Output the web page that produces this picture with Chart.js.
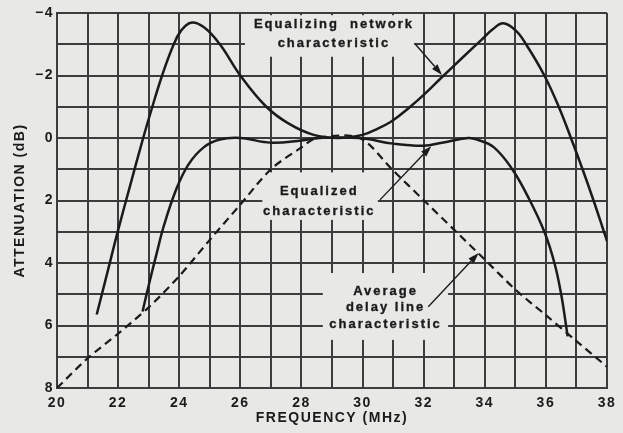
<!DOCTYPE html>
<html>
<head>
<meta charset="utf-8">
<script src="https://cdn.jsdelivr.net/npm/chart.js@4.4.0/dist/chart.umd.min.js"></script>
<style>
  html, body { margin: 0; padding: 0; background: #e8e8e6; }
  #wrap { width: 623px; height: 433px; }
</style>
</head>
<body>
<div id="wrap"><canvas id="c" width="623" height="433"></canvas></div>
<script>
// Equalizing network characteristic (attenuation in dB, negative = gain)
const networkFreq  = [21.3, 21.65, 22.0, 22.4, 22.82, 23.12, 23.44, 23.8, 24.05, 24.38, 24.8, 25.33, 26.0, 26.85, 27.6, 28.4, 29.2, 30.0, 30.5, 31.0, 31.56, 32.0, 32.57, 33.3, 33.9, 34.25, 34.6, 35.0, 35.35, 35.95, 36.42, 36.82, 37.2, 37.56, 37.9, 38.0];
const networkAtten = [5.65, 4.3, 2.95, 1.5, 0, -1, -2, -2.95, -3.42, -3.69, -3.55, -3, -2, -1, -0.45, -0.1, 0, -0.1, -0.3, -0.57, -1, -1.38, -1.92, -2.6, -3.15, -3.47, -3.67, -3.45, -3, -2, -1, 0, 1, 2, 3, 3.3];

// Equalized characteristic
const equalizedFreq  = [22.8, 23.03, 23.26, 23.5, 23.9, 24.3, 24.8, 25.33, 26.0, 27.0, 28.0, 28.6, 29.9, 31.0, 32.0, 32.6, 33.45, 33.75, 34.3, 34.9, 35.45, 35.95, 36.28, 36.5, 36.66, 36.71];
const equalizedAtten = [5.55, 4.6, 3.7, 2.8, 1.65, 0.85, 0.3, 0.05, 0, 0.15, 0.08, 0, 0, 0.18, 0.25, 0.15, 0, 0.05, 0.3, 1, 1.95, 3, 4, 5, 6, 6.35];

// Average delay line characteristic (dashed)
const delayFreq  = [20, 21, 22, 23, 24, 25, 26, 27, 28, 28.5, 29.9, 31, 32, 33, 34, 35, 36, 37, 38];
const delayAtten = [8, 7.05, 6.26, 5.42, 4.42, 3.26, 2.13, 1.0, 0.3, 0, 0, 1.04, 1.99, 2.94, 3.89, 4.85, 5.67, 6.5, 7.32];

// Axis ticks
const freqTickLabels  = [20, 22, 24, 26, 28, 30, 32, 34, 36, 38];
const attenTickLabels = [-4, -2, 0, 2, 4, 6, 8];

const PAPER = '#e8e8e6';
const INK = '#1b1b1b';
const GRID = '#3c3c3c';

// Callout texts, anchored in data units (MHz, dB)
const callouts = [
  { lines: ['Equalizing  network', 'characteristic'], freq: 29.03, atten: [-3.62, -3.04],
    clear: { f0: 26.15, f1: 31.7, a0: -3.93, a1: -2.6 } },
  { lines: ['Equalized', 'characteristic'], freq: 28.55, atten: [1.70, 2.34],
    clear: { f0: 26.72, f1: 30.5, a0: 1.1, a1: 2.62 } },
  { lines: ['Average', 'delay line', 'characteristic'], freq: 30.72, atten: [4.9, 5.43, 5.96],
    clear: { f0: 28.7, f1: 32.8, a0: 4.32, a1: 6.46 } }
];

// Leader arrows from each callout to its curve
const leaders = [
  { from: [31.7, -3.03], to: [32.6, -2.02] },
  { from: [30.57, 1.98], to: [32.25, 0.26] },
  { from: [32.15, 5.4],  to: [33.8, 3.68] }
];

const toPoints = (xs, ys) => xs.map((x, i) => ({ x, y: ys[i] }));

const paperPlugin = {
  id: 'paper',
  beforeDraw(chart) {
    const { ctx, width, height } = chart;
    ctx.save();
    ctx.fillStyle = PAPER;
    ctx.fillRect(0, 0, width, height);
    ctx.restore();
    ctx.letterSpacing = '1.5px';
  }
};

const calloutPlugin = {
  id: 'callouts',
  beforeDatasetsDraw(chart) {
    const { ctx, scales: { x, y } } = chart;
    ctx.save();
    for (const c of callouts) {
      const l = x.getPixelForValue(c.clear.f0), r = x.getPixelForValue(c.clear.f1);
      const t = y.getPixelForValue(c.clear.a0), b = y.getPixelForValue(c.clear.a1);
      ctx.fillStyle = PAPER;
      ctx.fillRect(l, t, r - l, b - t);
    }
    ctx.fillStyle = INK;
    ctx.strokeStyle = INK;
    ctx.lineWidth = 0.35;
    ctx.font = 'bold 13px "Liberation Sans", Arial, sans-serif';
    ctx.letterSpacing = '2px';
    ctx.textAlign = 'center';
    ctx.textBaseline = 'middle';
    for (const c of callouts) {
      const cx = x.getPixelForValue(c.freq);
      c.lines.forEach((line, i) => {
        const ty = y.getPixelForValue(c.atten[i]);
        ctx.fillText(line, cx + 1, ty);
        ctx.strokeText(line, cx + 1, ty);
      });
    }
    ctx.restore();
  },
  afterDatasetsDraw(chart) {
    const { ctx, scales: { x, y } } = chart;
    ctx.save();
    ctx.strokeStyle = INK;
    ctx.fillStyle = INK;
    ctx.lineWidth = 1.4;
    for (const a of leaders) {
      const x0 = x.getPixelForValue(a.from[0]), y0 = y.getPixelForValue(a.from[1]);
      const x1 = x.getPixelForValue(a.to[0]),   y1 = y.getPixelForValue(a.to[1]);
      const ang = Math.atan2(y1 - y0, x1 - x0);
      const len = 11, half = 3.6;
      const bx = x1 - len * Math.cos(ang), by = y1 - len * Math.sin(ang);
      ctx.beginPath();
      ctx.moveTo(x0, y0);
      ctx.lineTo(bx, by);
      ctx.stroke();
      ctx.beginPath();
      ctx.moveTo(x1, y1);
      ctx.lineTo(bx + half * Math.sin(ang), by - half * Math.cos(ang));
      ctx.lineTo(bx - half * Math.sin(ang), by + half * Math.cos(ang));
      ctx.closePath();
      ctx.fill();
    }
    ctx.restore();
  }
};

const curveStyle = {
  borderColor: INK,
  borderWidth: 2.5,
  pointRadius: 0,
  fill: false,
  tension: 0.4
};

new Chart(document.getElementById('c'), {
  type: 'line',
  data: {
    datasets: [
      { label: 'Equalizing network characteristic', data: toPoints(networkFreq, networkAtten), ...curveStyle },
      { label: 'Equalized characteristic', data: toPoints(equalizedFreq, equalizedAtten), ...curveStyle },
      { label: 'Average delay line characteristic', data: toPoints(delayFreq, delayAtten), ...curveStyle,
        borderDash: [8, 5], borderWidth: 2.2, tension: 0.3 }
    ]
  },
  options: {
    responsive: false,
    animation: false,
    events: [],
    layout: { padding: { top: 13, right: 16, left: 0, bottom: 0 } },
    plugins: { legend: { display: false }, tooltip: { enabled: false } },
    scales: {
      x: {
        type: 'linear',
        min: 20, max: 38,
        afterFit(s) { s.height = 45; },
        afterBuildTicks(s) {
          s.ticks = [];
          for (let v = s.min; v <= s.max; v++) s.ticks.push({ value: v });
        },
        grid: { color: GRID, lineWidth: 2, drawTicks: false },
        border: { color: GRID, width: 2 },
        ticks: {
          color: INK,
          padding: 7,
          maxRotation: 0,
          autoSkip: false,
          font: { family: '"Liberation Sans", Arial, sans-serif', size: 14, weight: 'bold' },
          callback: v => freqTickLabels.includes(v) ? String(v) : ''
        },
        title: {
          display: true,
          text: 'FREQUENCY (MHz)',
          color: INK,
          padding: { top: 0, bottom: 6 },
          font: { family: '"Liberation Sans", Arial, sans-serif', size: 14, weight: 'bold' }
        }
      },
      y: {
        type: 'linear',
        min: -4, max: 8,
        reverse: true,
        afterFit(s) { s.width = 57; },
        afterBuildTicks(s) {
          s.ticks = [];
          for (let v = s.min; v <= s.max; v++) s.ticks.push({ value: v });
        },
        grid: { color: GRID, lineWidth: 2, drawTicks: false },
        border: { color: GRID, width: 2 },
        ticks: {
          color: INK,
          padding: 3,
          autoSkip: false,
          font: { family: '"Liberation Sans", Arial, sans-serif', size: 14, weight: 'bold' },
          callback: v => attenTickLabels.includes(v) ? (v < 0 ? '\u2212' + Math.abs(v) : String(v)) : ''
        },
        title: {
          display: true,
          text: 'ATTENUATION (dB)',
          color: INK,
          padding: { top: 12, bottom: 0 },
          font: { family: '"Liberation Sans", Arial, sans-serif', size: 14, weight: 'bold' }
        }
      }
    }
  },
  plugins: [paperPlugin, calloutPlugin]
});
</script>
</body>
</html>
